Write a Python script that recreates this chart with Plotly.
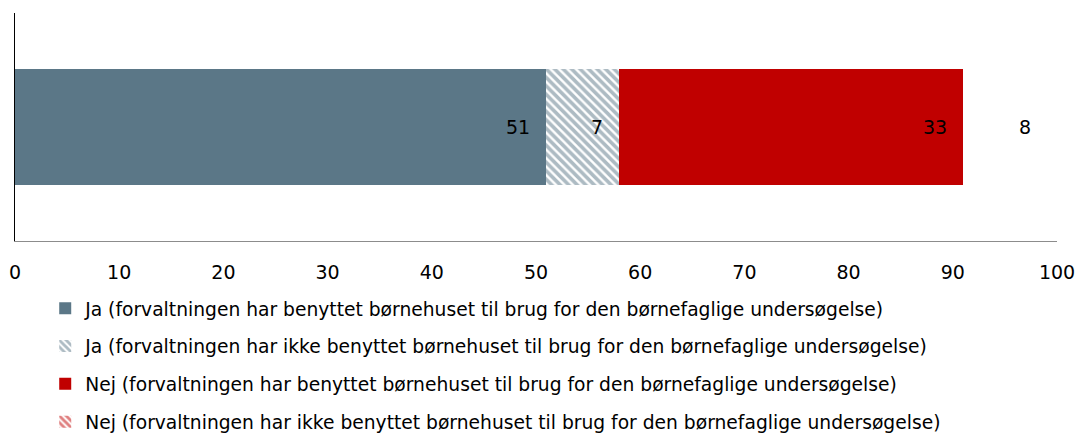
import numpy as np
import plotly.graph_objects as go

# Survey answers, share in percent
category = ["Alle"]
series_names = [
    "Ja (forvaltningen har benyttet børnehuset til brug for den børnefaglige undersøgelse)",
    "Ja (forvaltningen har ikke benyttet børnehuset til brug for den børnefaglige undersøgelse)",
    "Nej (forvaltningen har benyttet børnehuset til brug for den børnefaglige undersøgelse)",
    "Nej (forvaltningen har ikke benyttet børnehuset til brug for den børnefaglige undersøgelse)",
]
ja_benyttet = [51]
ja_ikke_benyttet = [7]
nej_benyttet = [33]
nej_ikke_benyttet = [8]
x_ticks = [0, 10, 20, 30, 40, 50, 60, 70, 80, 90, 100]

SLATE = "#5B7787"
RED = "#C00000"
FONT = "DejaVu Sans"

fig = go.Figure()


def add_bar(values, name, marker, group, showlegend=True):
    fig.add_trace(go.Bar(
        y=category, x=values, orientation="h", name=name,
        marker=marker, legendgroup=group, showlegend=showlegend,
    ))


add_bar(ja_benyttet, series_names[0],
        dict(color=SLATE, line=dict(width=0)), "g1")
add_bar(ja_ikke_benyttet, series_names[1],
        dict(color="white", line=dict(width=0),
             pattern=dict(shape="\\", fgcolor=SLATE, bgcolor="white",
                          size=6, solidity=0.6, fillmode="overlay")), "g2")
add_bar(nej_benyttet, series_names[2],
        dict(color=RED, line=dict(width=0)), "g3")
# last segment is drawn blank; its legend swatch shows the red hatch
add_bar(nej_ikke_benyttet, series_names[3],
        dict(color="rgba(255,255,255,0)", line=dict(width=0)), "g4",
        showlegend=False)
fig.add_trace(go.Bar(
    y=[None], x=[None], orientation="h", name=series_names[3],
    legendgroup="g4",
    marker=dict(color="white", line=dict(width=0),
                pattern=dict(shape="\\", fgcolor=RED, bgcolor="white",
                             size=6, solidity=0.6, fillmode="overlay")),
))

# value labels, right-aligned a little inside the end of each segment
segments = [ja_benyttet, ja_ikke_benyttet, nej_benyttet, nej_ikke_benyttet]
ends = np.cumsum([s[0] for s in segments])
for seg, end in zip(segments, ends):
    fig.add_annotation(
        x=end, y=category[0], xref="x", yref="y",
        text=str(seg[0]), showarrow=False,
        xanchor="right", yanchor="middle", xshift=-14,
        font=dict(family=FONT, size=19, color="black"),
    )

fig.update_layout(
    width=1082, height=434,
    barmode="stack", bargap=0.49,
    plot_bgcolor="white", paper_bgcolor="white",
    margin=dict(l=15, r=25, t=13, b=193, autoexpand=False),
    font=dict(family=FONT, size=18, color="black"),
    showlegend=True,
    legend=dict(
        orientation="v", traceorder="grouped",
        x=0.029, xanchor="left", y=-0.213, yanchor="top",
        font=dict(family=FONT, size=18.7, color="black"),
        tracegroupgap=10.5, itemwidth=30,
        bgcolor="rgba(0,0,0,0)",
    ),
    xaxis=dict(
        range=[0, 100], tickvals=x_ticks, ticktext=[str(t) for t in x_ticks],
        showgrid=False, zeroline=False, automargin=False,
        showline=True, linecolor="#8c8c8c", linewidth=1,
        ticks="outside", ticklen=14, tickcolor="rgba(0,0,0,0)",
        tickfont=dict(family=FONT, size=19, color="black"),
    ),
    yaxis=dict(
        showticklabels=False, showgrid=False, zeroline=False, automargin=False,
        showline=True, linecolor="black", linewidth=1, ticks="",
    ),
)

fig.write_html("out.html")
